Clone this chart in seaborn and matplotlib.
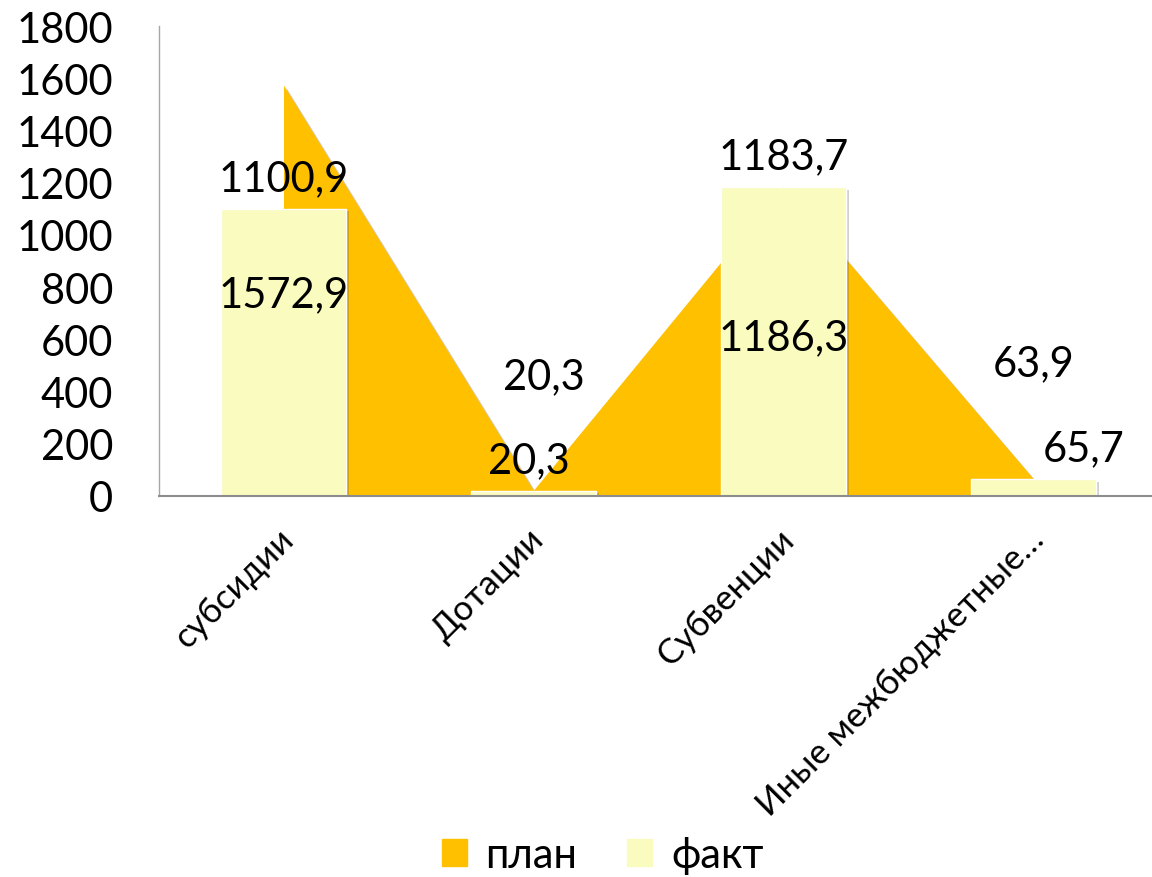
import numpy as np
import pandas as pd
import seaborn as sns
import matplotlib.pyplot as plt
from matplotlib.patches import Patch
from matplotlib.transforms import ScaledTranslation
import matplotlib.patheffects as pe

categories = ["субсидии", "Дотации", "Субвенции", "Иные межбюджетные…"]
plan = [1572.9, 20.3, 1186.3, 63.9]
fact = [1100.9, 20.3, 1183.7, 65.7]
plan_labels = ["1572,9", "20,3", "1186,3", "63,9"]
fact_labels = ["1100,9", "20,3", "1183,7", "65,7"]

# label placement (as in the source chart, some were moved by hand)
plan_label_y = [775, 457, 610, 507]
plan_label_dx = [0, 0.04, 0, 0]
fact_label_dx = [0, -0.02, 0, 0.2]

PLAN_C = "#FFC000"
FACT_C = "#FAFBBE"

sns.set_style("white")
plt.rcParams['font.family'] = ['Lato', 'DejaVu Sans']
plt.rcParams['text.color'] = 'black'
plt.rcParams['xtick.color'] = 'black'
plt.rcParams['ytick.color'] = 'black'

df = pd.DataFrame({"cat": categories, "fact": fact})

fig = plt.figure(figsize=(11.52, 8.78), dpi=100)
ax = fig.add_axes([0.138, 0.434, 0.868, 0.535])

x = np.arange(len(categories))
shadow = [pe.SimplePatchShadow(offset=(2, -2), alpha=0.25), pe.Normal()]

area = ax.fill_between(x, plan, 0, color=PLAN_C, lw=0, zorder=1)
area.set_path_effects(shadow)

sns.barplot(data=df, x="cat", y="fact", color=FACT_C, width=0.5,
            saturation=1, ax=ax, zorder=2)
for p in ax.patches:
    p.set_path_effects(shadow)

fs = 30
for i in range(len(categories)):
    ax.annotate(fact_labels[i], (x[i] + fact_label_dx[i], fact[i]),
                xytext=(0, 22), textcoords="offset points",
                ha="center", va="center", fontsize=fs, zorder=5)
    ax.text(x[i] + plan_label_dx[i], plan_label_y[i], plan_labels[i],
            ha="center", va="center", fontsize=fs, zorder=5)

ax.set_xlim(-0.5, 3.5)
ax.set_ylim(0, 1800)
ax.set_yticks(range(0, 1801, 200))
ax.set_xlabel("")
ax.set_ylabel("")
ax.tick_params(axis="y", labelsize=fs, pad=33, length=0)
ax.tick_params(axis="x", labelsize=25, pad=27, length=0)
shift = ScaledTranslation(5 / 100, 0, fig.dpi_scale_trans)
for lbl in ax.get_xticklabels():
    lbl.set_rotation(45)
    lbl.set_ha("right")
    lbl.set_va("center")
    lbl.set_rotation_mode("anchor")
    lbl.set_transform(lbl.get_transform() + shift)

for s in ["top", "right"]:
    ax.spines[s].set_visible(False)
ax.spines["left"].set_color("#A6A6A6")
ax.spines["left"].set_linewidth(1)
ax.spines["bottom"].set_color("#8C8C8C")
ax.spines["bottom"].set_linewidth(1.5)

handles = [Patch(color=PLAN_C, label="план"), Patch(color=FACT_C, label="факт")]
fig.legend(handles=handles, loc="lower center", bbox_to_anchor=(0.523, 0.003),
           ncol=2, frameon=False, fontsize=fs, handlelength=0.6,
           handleheight=0.6, handletextpad=0.45, columnspacing=1.2,
           borderaxespad=0, borderpad=0)

fig.savefig("out.png", dpi=100)
